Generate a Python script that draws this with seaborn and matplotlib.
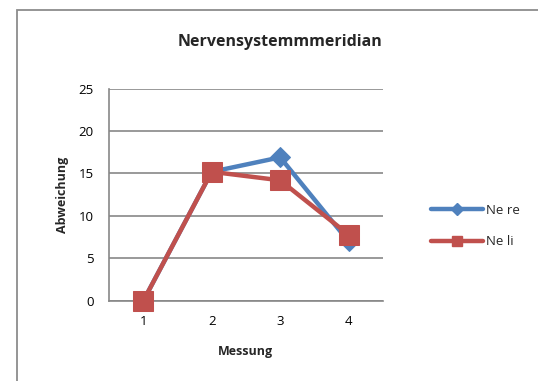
import matplotlib
matplotlib.use("Agg")
import matplotlib.pyplot as plt
from matplotlib.lines import Line2D
from matplotlib.patches import Rectangle
import pandas as pd
import seaborn as sns

# values
messung = [1, 2, 3, 4]
ne_re = [0.0, 15.2, 16.9, 7.0]
ne_li = [0.0, 15.2, 14.2, 7.8]
series_names = ["Ne re", "Ne li"]
y_ticks = [0, 5, 10, 15, 20, 25]

blue = "#4F81BD"
red = "#C0504D"
grid_grey = "#878787"

df = pd.DataFrame({
    "Messung": messung * 2,
    "Abweichung": ne_re + ne_li,
    "Serie": [series_names[0]] * 4 + [series_names[1]] * 4,
})

sns.set_theme(style="white")
plt.rcParams["font.family"] = ["Open Sans", "DejaVu Sans"]

fig = plt.figure(figsize=(5.38, 3.81), dpi=100)
ax = fig.add_axes([0.2026, 0.21, 0.509, 0.5577])

sns.lineplot(data=df[df["Serie"] == "Ne re"], x="Messung", y="Abweichung",
             color=blue, linewidth=3.2, marker="D", markersize=10,
             markeredgecolor=blue, ax=ax, legend=False, zorder=3)
sns.lineplot(data=df[df["Serie"] == "Ne li"], x="Messung", y="Abweichung",
             color=red, linewidth=3.2, marker="s", markersize=15,
             markeredgecolor=red, ax=ax, legend=False, zorder=4)

ax.set_xlim(0.5, 4.5)
ax.set_ylim(0, 25)
ax.set_xticks(messung)
ax.set_yticks(y_ticks)
ax.tick_params(axis="both", length=0, labelsize=9.5, colors="black")
ax.tick_params(axis="x", pad=10)
ax.tick_params(axis="y", pad=11)
ax.yaxis.grid(True, color=grid_grey, linewidth=1.2)
ax.set_axisbelow(True)
for s in ["top", "right"]:
    ax.spines[s].set_visible(False)
for s in ["left", "bottom"]:
    ax.spines[s].set_color(grid_grey)
    ax.spines[s].set_linewidth(1.2)
for line in ax.lines:
    line.set_clip_on(False)

ax.set_xlabel("Messung", fontsize=9, fontweight="bold", labelpad=12)
ax.set_ylabel("Abweichung", fontsize=9, fontweight="bold", labelpad=7)
fig.text(280 / 538, 1 - 42 / 381, "Nervensystemmmeridian", ha="center",
         va="center", fontsize=11.5, fontweight="bold")

handles = [
    Line2D([], [], color=blue, linewidth=3.2, marker="D", markersize=6),
    Line2D([], [], color=red, linewidth=3.2, marker="s", markersize=7),
]
fig.legend(handles, series_names, loc="center left",
           bbox_to_anchor=(424 / 538, 1 - 226 / 381), frameon=False,
           fontsize=9.5, handlelength=4.0, handletextpad=0.2,
           labelspacing=1.4, borderpad=0)

# outer chart frame, cut off at right and bottom
fig.patches.append(Rectangle((17 / 538, -0.1), 1.2, 1.1 - 9.5 / 381,
                             transform=fig.transFigure, fill=False,
                             edgecolor="#8c8c8c", linewidth=1.3))

fig.savefig("out.png", dpi=100)
